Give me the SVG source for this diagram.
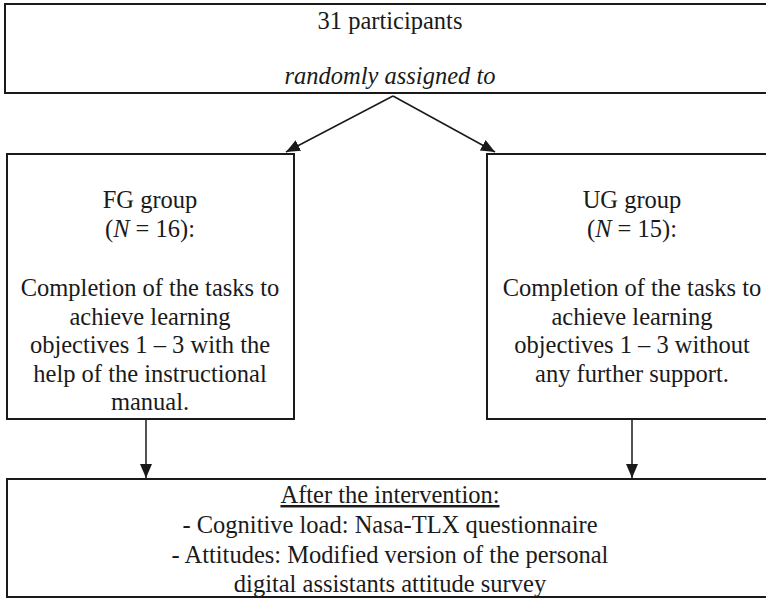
<svg xmlns="http://www.w3.org/2000/svg" width="766" height="598" viewBox="0 0 766 598">
<style>
.box{fill:#fff;stroke:#1a1a1a;stroke-width:2}
.t{font-family:'Liberation Serif','Times New Roman',serif;font-size:24.5px;fill:#1a1a1a;text-anchor:middle}
.it{font-style:italic}
.conn{stroke:#1a1a1a;stroke-width:1.5;fill:none;marker-end:url(#ah)}
</style>
<defs>
<marker id="ah" markerUnits="userSpaceOnUse" markerWidth="15" markerHeight="12" refX="14" refY="6" orient="auto">
<path d="M0,0 L14,6 L0,12 Z" fill="#1a1a1a"/>
</marker>
</defs>
<rect width="766" height="598" fill="#fff"/>
<g id="top">
<rect class="box" x="5" y="4" width="772" height="89"/>
<text class="t" x="390" y="29">31 participants</text>
<text class="t it" x="390" y="84">randomly assigned to</text>
</g>
<g id="fg">
<rect class="box" x="7" y="154" width="287" height="265"/>
<text class="t" x="150" y="208">FG group</text>
<text class="t" x="150" y="237">(<tspan class="it">N</tspan> = 16):</text>
<text class="t" x="150" y="296">Completion of the tasks to</text>
<text class="t" x="150" y="325">achieve learning</text>
<text class="t" x="150" y="353">objectives 1 – 3 with the</text>
<text class="t" x="150" y="382">help of the instructional</text>
<text class="t" x="150" y="410">manual.</text>
</g>
<g id="ug">
<rect class="box" x="487" y="154" width="290" height="265"/>
<text class="t" x="632" y="208">UG group</text>
<text class="t" x="632" y="237">(<tspan class="it">N</tspan> = 15):</text>
<text class="t" x="632" y="296">Completion of the tasks to</text>
<text class="t" x="632" y="325">achieve learning</text>
<text class="t" x="632" y="353">objectives 1 – 3 without</text>
<text class="t" x="632" y="382">any further support.</text>
</g>
<g id="after">
<rect class="box" x="7" y="479" width="770" height="118"/>
<text class="t" x="390" y="503" text-decoration="underline">After the intervention:</text>
<text class="t" x="390" y="533">- Cognitive load: Nasa-TLX questionnaire</text>
<text class="t" x="390" y="563">- Attitudes: Modified version of the personal</text>
<text class="t" x="390" y="592">digital assistants attitude survey</text>
</g>
<g id="connectors">
<line class="conn" x1="393" y1="96" x2="286" y2="152"/>
<line class="conn" x1="393" y1="96" x2="495" y2="152"/>
<line class="conn" x1="146" y1="420" x2="146" y2="478"/>
<line class="conn" x1="632" y1="420" x2="632" y2="478"/>
</g>
</svg>
